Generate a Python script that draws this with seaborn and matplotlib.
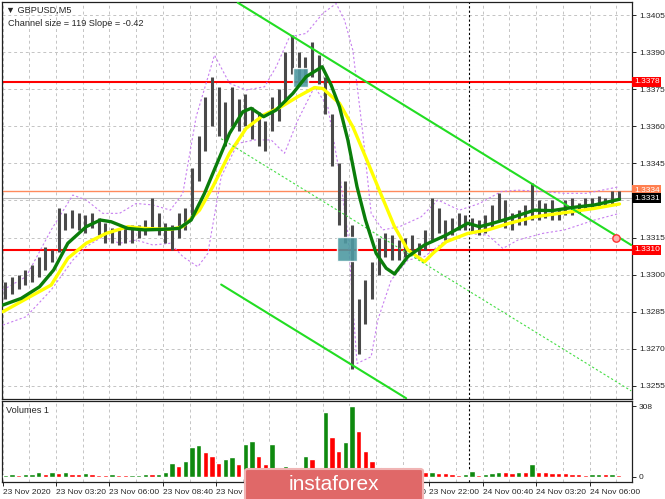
import numpy as np
import matplotlib
matplotlib.use("Agg")
import matplotlib.pyplot as plt
import seaborn as sns
from matplotlib.patches import Rectangle, FancyBboxPatch

sns.set_style("white")
plt.rcParams['font.family'] = ['Liberation Sans', 'DejaVu Sans']

# GBPUSD M5 - price bars grouped by 4 candles (high / low)
bar_high = [
    1.3297, 1.3299, 1.3300, 1.3302, 1.3304, 1.3307, 1.3311, 1.3310,
    1.3327, 1.3325, 1.3326, 1.3325, 1.3324, 1.3325, 1.3323, 1.3321,
    1.3319, 1.3318, 1.3319, 1.3320, 1.3320, 1.3322, 1.3331, 1.3325,
    1.3321, 1.3320, 1.3325, 1.3327, 1.3343, 1.3356, 1.3372, 1.3380,
    1.3376, 1.3370, 1.3376, 1.3371, 1.3373, 1.3368, 1.3366, 1.3362,
    1.3372, 1.3375, 1.3390, 1.3397, 1.3390, 1.3388, 1.3394, 1.3389,
    1.3380, 1.3365, 1.3345, 1.3338, 1.3320, 1.3290, 1.3298, 1.3305,
    1.3315, 1.3317, 1.3316, 1.3314, 1.3315, 1.3316, 1.3313, 1.3318,
    1.3331, 1.3327, 1.3322, 1.3323, 1.3325, 1.3324, 1.3323, 1.3322,
    1.3324, 1.3328, 1.3333, 1.3330, 1.3325, 1.3326, 1.3328, 1.3337,
    1.3330, 1.3329, 1.3330, 1.3327, 1.3330, 1.3331, 1.3329, 1.3331,
    1.3331, 1.3332, 1.3331, 1.3334, 1.3334]
bar_low = [
    1.3290, 1.3292, 1.3294, 1.3296, 1.3297, 1.3299, 1.3302, 1.3305,
    1.3309, 1.3318, 1.3319, 1.3318, 1.3317, 1.3319, 1.3316, 1.3313,
    1.3313, 1.3312, 1.3313, 1.3313, 1.3315, 1.3316, 1.3318, 1.3316,
    1.3313, 1.3310, 1.3315, 1.3318, 1.3324, 1.3338, 1.3350, 1.3360,
    1.3356, 1.3352, 1.3360, 1.3358, 1.3360, 1.3355, 1.3352, 1.3350,
    1.3358, 1.3362, 1.3370, 1.3381, 1.3377, 1.3378, 1.3380, 1.3377,
    1.3365, 1.3344, 1.3320, 1.3313, 1.3262, 1.3268, 1.3280, 1.3290,
    1.3300, 1.3307, 1.3306, 1.3306, 1.3307, 1.3308, 1.3308, 1.3310,
    1.3314, 1.3317, 1.3314, 1.3316, 1.3318, 1.3318, 1.3317, 1.3316,
    1.3317, 1.3319, 1.3322, 1.3319, 1.3318, 1.3320, 1.3320, 1.3322,
    1.3322, 1.3323, 1.3322, 1.3322, 1.3324, 1.3324, 1.3325, 1.3326,
    1.3327, 1.3327, 1.3328, 1.3328, 1.3330]
volumes = [
    8, 10, 7, 9, 12, 18, 10, 22,
    14, 20, 12, 9, 16, 10, 8, 7,
    9, 6, 5, 7, 8, 10, 9, 12,
    20, 60, 45, 70, 130, 140, 107, 92,
    60, 75, 85, 55, 144, 155, 92, 53,
    144, 30, 48, 35, 40, 92, 75, 30,
    283, 173, 110, 150, 308, 200, 110, 70,
    44, 30, 25, 20, 18, 15, 20, 18,
    20, 16, 14, 12, 8, 12, 26, 8,
    12, 15, 22, 18, 15, 20, 18, 56,
    20, 18, 16, 15, 14, 12, 10, 8,
    10, 12, 10, 12, 8]
bar_x = np.arange(len(bar_high)) * 4 + 1.5

# moving averages
ma_green_x = [0, 11, 22, 30.5, 39, 50, 58.5, 65, 75, 85, 95, 105.6, 113, 121, 128.5, 136, 144, 149,
              156.5, 164, 174, 182, 191.6, 197, 202, 207, 212.5, 217.6, 224, 230, 235, 243, 253,
              266, 279, 286, 294, 304, 319, 329.5, 342, 355, 370]
ma_green_y = [1.32877, 1.32904, 1.32951, 1.33019, 1.33127, 1.33194, 1.33221, 1.33214, 1.33187,
              1.33181, 1.33183, 1.33187, 1.33221, 1.33329, 1.33450, 1.33571, 1.33659, 1.33673,
              1.33639, 1.33666, 1.33733, 1.33801, 1.33841, 1.33767, 1.33679, 1.33545, 1.33356,
              1.33221, 1.33086, 1.33026, 1.33003, 1.33073, 1.33120, 1.33160, 1.33208, 1.33194,
              1.33208, 1.33228, 1.33261, 1.33259, 1.33272, 1.33282, 1.33305]
ma_yellow_x = [0, 11, 29, 39, 50, 62, 75, 85, 100.5, 108, 118, 126, 136, 146, 156.5, 167, 177, 187,
               192, 202, 210, 217.6, 225, 235, 243, 253, 258, 266, 279, 291, 304, 319, 334, 355, 370]
ma_yellow_y = [1.32850, 1.32891, 1.32958, 1.33066, 1.33127, 1.33167, 1.33194, 1.33187, 1.33183,
               1.33194, 1.33261, 1.33356, 1.33491, 1.33592, 1.33646, 1.33679, 1.33720, 1.33757,
               1.33753, 1.33693, 1.33598, 1.33477, 1.33356, 1.33194, 1.33100, 1.33052, 1.33086,
               1.33133, 1.33167, 1.33181, 1.33208, 1.33234, 1.33248, 1.33268, 1.33286]

# envelope bands
band_up_x = [0, 14, 29, 42, 50, 60, 70, 80, 90, 100.5, 108, 116, 127, 136, 146, 157, 164, 172, 182,
             192, 200, 205, 210, 216, 221, 228, 238, 251, 261, 274, 286, 299, 309, 324, 337, 350, 370]
band_up_y = [1.32938, 1.32992, 1.33181, 1.33322, 1.33302, 1.33248, 1.33248, 1.33288, 1.33282,
             1.33261, 1.33329, 1.33639, 1.33888, 1.33774, 1.33747, 1.33760, 1.33841, 1.33962,
             1.33976, 1.34057, 1.34097, 1.34030, 1.33908, 1.33571, 1.33248, 1.33181, 1.33194,
             1.33234, 1.33302, 1.33261, 1.33288, 1.33336, 1.33342, 1.33336, 1.33329, 1.33329,
             1.33356]
band_lo_x = [0, 14, 29, 42, 50, 60, 70, 80, 90, 100.5, 108, 117, 123, 131, 141, 151, 161, 169, 177,
             187, 195, 202, 207, 212.5, 221, 225, 233, 243, 253, 266, 279, 291, 300, 309, 324, 337,
             355, 370]
band_lo_y = [1.32796, 1.32830, 1.32938, 1.33059, 1.33113, 1.33154, 1.33127, 1.33140, 1.33120,
             1.33127, 1.33073, 1.33032, 1.33086, 1.33396, 1.33531, 1.33545, 1.33545, 1.33491,
             1.33625, 1.33760, 1.33679, 1.33410, 1.33167, 1.32641, 1.32668, 1.32817, 1.32978,
             1.33059, 1.33073, 1.33140, 1.33167, 1.33160, 1.33106, 1.33140, 1.33167, 1.33181,
             1.33221, 1.33248]

# regression channel
chan_up_x, chan_up_y = [141, 377], [1.3410, 1.3312]
chan_lo_x, chan_lo_y = [131, 242], [1.3296, 1.3250]
chan_mid_x, chan_mid_y = [131, 377], [1.3355, 1.3253]

levels_red = [1.3378, 1.3310]
level_orange = 1.3334
last_price = 1.3331
zones_x = [174, 200.5]
zones_w = [9, 12]
zones_lo = [1.33760, 1.33057]
zones_hi = [1.33834, 1.33151]
marker_x, marker_y = 368, 1.3315
session_x = 280

price_ticks = [1.3255, 1.3270, 1.3285, 1.3300, 1.3315, 1.3345, 1.3360, 1.3375, 1.3390, 1.3405]
grid_prices = [1.3255, 1.3270, 1.3285, 1.3300, 1.3315, 1.3330, 1.3345, 1.3360, 1.3375, 1.3390, 1.3405]
time_labels = ["23 Nov 2020", "23 Nov 03:20", "23 Nov 06:00", "23 Nov 08:40", "23 Nov 11:20",
               "23 Nov 14:00", "23 Nov 16:40", "23 Nov 19:20", "23 Nov 22:00", "24 Nov 00:40",
               "24 Nov 03:20", "24 Nov 06:00"]
time_ticks = [0, 32, 64, 96, 128, 160, 192, 224, 256, 288, 320, 352]

W, H = 665, 499
fig = plt.figure(figsize=(W / 100, H / 100), dpi=100)
ax = fig.add_axes([2 / W, 1 - 399 / H, 630 / W, 397 / H])
axv = fig.add_axes([2 / W, 1 - 482 / H, 630 / W, 81.5 / H])

grid_kw = dict(color='#c4c4c4', ls=(0, (3, 3)), lw=0.7)
fs = 6.0

# main panel
ax.set_xlim(-0.5, 377.5)
ax.set_ylim(1.32497, 1.34103)
for g in grid_prices:
    ax.axhline(g, zorder=0, **grid_kw)
for t in range(0, 378, 16):
    ax.axvline(t, zorder=0, **grid_kw)

ax.axhline(level_orange, color='#ff8a5c', lw=1.0, zorder=1)
ax.axhline(last_price, color='#b8b8b8', lw=0.8, zorder=1)
for lv in levels_red:
    ax.axhline(lv, color='#ff0000', lw=1.5, zorder=2)
ax.axvline(session_x, color='black', ls=(0, (2, 2)), lw=0.8, zorder=2)

sns.lineplot(x=band_up_x, y=band_up_y, ax=ax, color='#c77ff0', lw=0.8, ls=(0, (2, 2)), zorder=3)
sns.lineplot(x=band_lo_x, y=band_lo_y, ax=ax, color='#c77ff0', lw=0.8, ls=(0, (2, 2)), zorder=3)

ax.vlines(bar_x, bar_low, bar_high, color='#4a4a4a', lw=2.2, zorder=4)

for zx, zw, zl, zh in zip(zones_x, zones_w, zones_lo, zones_hi):
    ax.add_patch(Rectangle((zx, zl), zw, zh - zl, facecolor='#4f9aa2', alpha=0.9, zorder=5))

sns.lineplot(x=ma_yellow_x, y=ma_yellow_y, ax=ax, color='#ffff00', lw=2.4, zorder=6)
sns.lineplot(x=ma_green_x, y=ma_green_y, ax=ax, color='#0a7d0a', lw=2.4, zorder=7)

sns.lineplot(x=chan_up_x, y=chan_up_y, ax=ax, color='#22dd22', lw=1.5, zorder=6)
sns.lineplot(x=chan_lo_x, y=chan_lo_y, ax=ax, color='#22dd22', lw=1.5, zorder=6)
sns.lineplot(x=chan_mid_x, y=chan_mid_y, ax=ax, color='#44dd44', lw=0.8, ls=(0, (2, 2)), zorder=6)
ax.scatter([marker_x], [marker_y], s=28, facecolor='#ffb0b0', edgecolor='#ff3030', lw=1.0, zorder=8)

ax.yaxis.tick_right()
ax.set_yticks(price_ticks)
ax.set_yticklabels([f"{p:.4f}" for p in price_ticks])
ax.set_xticks([])
ax.tick_params(axis='y', length=3, width=0.7, pad=2, labelsize=fs, right=True, direction='out')
ax.set_xlabel("")
ax.set_ylabel("")

# price tags on the right scale
tags = [(levels_red[0], '#ff0000', 'white'), (levels_red[1], '#ff0000', 'white'),
        (level_orange, '#ff7f50', 'white'), (last_price, 'black', 'white')]
for val, bg, fg in tags:
    ax.text(1.003, val, f"{val:.4f}", transform=ax.get_yaxis_transform(), ha='left', va='center',
            fontsize=fs, color=fg, clip_on=False, zorder=10,
            bbox=dict(boxstyle='square,pad=0.2', fc=bg, ec='none'))

ax.text(0.006, 0.99, "▼ GBPUSD,M5", transform=ax.transAxes, fontsize=6.6, va='top', ha='left')
ax.text(0.01, 0.958, "Channel size = 119 Slope = -0.42", transform=ax.transAxes, fontsize=6.6,
        va='top', ha='left')

for sp in ax.spines.values():
    sp.set_color('#202020')
    sp.set_linewidth(0.9)

# volume panel
vol_colors = ['#0f8a0f' if i == 0 or v >= volumes[i - 1] else '#ff0000' for i, v in enumerate(volumes)]
axv.set_xlim(-0.5, 377.5)
axv.set_ylim(-24, 334)
for t in range(0, 378, 16):
    axv.axvline(t, zorder=0, **grid_kw)
axv.axvline(session_x, color='black', ls=(0, (2, 2)), lw=0.8, zorder=2)
axv.bar(bar_x, volumes, width=3.2, color=vol_colors, zorder=3)
axv.yaxis.tick_right()
axv.set_yticks([0, 308])
axv.set_yticklabels(["0", "308"])
axv.set_xticks(time_ticks)
axv.set_xticklabels(time_labels)
for lbl in axv.get_xticklabels():
    lbl.set_ha('left')
axv.tick_params(axis='both', length=3, width=0.7, pad=2, labelsize=fs, direction='out',
                bottom=True, right=True)
axv.text(0.006, 0.93, "Volumes 1", transform=axv.transAxes, fontsize=6.6, va='top', ha='left')
for sp in axv.spines.values():
    sp.set_color('#202020')
    sp.set_linewidth(0.9)

# watermark
fig.patches.append(FancyBboxPatch((245 / W, -0.02), 178 / W, 0.02 + 30 / H,
                                  boxstyle="round,pad=0,rounding_size=0.004",
                                  transform=fig.transFigure, fc='#e06868', ec='#f0b4b4', lw=1.5,
                                  zorder=20))
fig.text(334 / W, 1 - 484 / H, "instaforex", color='white', fontsize=15, ha='center', va='center',
         zorder=21)

fig.savefig("out.png", dpi=100)
